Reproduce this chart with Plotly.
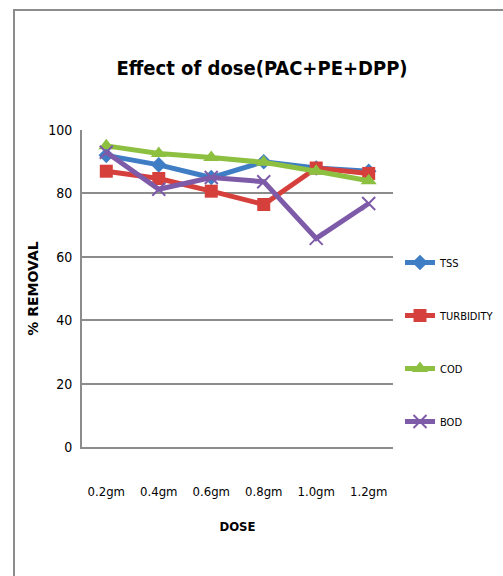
import plotly.graph_objects as go

doses = ["0.2gm", "0.4gm", "0.6gm", "0.8gm", "1.0gm", "1.2gm"]
tss = [92, 89, 85, 90, 88, 87]
turbidity = [87, 84.7, 80.7, 76.5, 88, 86.3]
cod = [95, 92.6, 91.3, 89.8, 87, 84]
bod = [93, 81.3, 85, 83.7, 65.8, 76.8]
y_ticks = [0, 20, 40, 60, 80, 100]

FONT = "DejaVu Sans Condensed, sans-serif"
W, H = 503, 576
L, R, T, B = 82, 110, 130, 129

fig = go.Figure()
series = [
    ("TSS", tss, "#3F7DC4", dict(symbol="diamond", size=12)),
    ("TURBIDITY", turbidity, "#D6403C", dict(symbol="square", size=13)),
    ("COD", cod, "#8DC040", dict(symbol="triangle-up", size=14)),
    ("BOD", bod, "#7E5BA8", dict(symbol="x-thin", size=13)),
]
for i, (name, vals, col, mk) in enumerate(series):
    m = dict(color=col, **mk)
    if mk["symbol"] == "x-thin":
        m["line"] = dict(color=col, width=2)
    fig.add_trace(go.Scatter(
        x=doses, y=vals, name=name, mode="lines+markers",
        line=dict(color=col, width=5), marker=m, legendgroup=f"g{i}",
    ))

pw = W - L - R
ph = H - T - B
fig.add_shape(type="rect", xref="paper", yref="paper",
              x0=(14 - L) / pw, x1=(520 - L) / pw,
              y0=(H - B - 600) / ph, y1=(H - B - 10) / ph,
              line=dict(color="#8C8C8C", width=2), fillcolor="rgba(0,0,0,0)", layer="below")

fig.update_layout(
    width=W, height=H,
    margin=dict(l=L, r=R, t=T, b=B, autoexpand=False),
    paper_bgcolor="white", plot_bgcolor="white",
    title=dict(text="<b>Effect of dose(PAC+PE+DPP)</b>", x=262 / W, xanchor="center",
               y=1 - 68 / H, yanchor="middle",
               font=dict(family=FONT, size=20, color="black")),
    font=dict(family=FONT, color="black"),
    xaxis=dict(type="category", showgrid=False, showline=True, linecolor="#8C8C8C", linewidth=2,
               tickfont=dict(family=FONT, size=13, color="black"),
               ticks="outside", ticklen=0, ticklabelstandoff=31,
               title=dict(text="<b>DOSE</b>", font=dict(family=FONT, size=13, color="black"), standoff=24)),
    yaxis=dict(range=[0, 100], tickvals=y_ticks, showgrid=True, gridcolor="#8C8C8C", gridwidth=2,
               showline=True, linecolor="#8C8C8C", linewidth=2, zeroline=False,
               tickfont=dict(family=FONT, size=14, color="black"),
               ticks="outside", ticklen=0, ticklabelstandoff=5,
               title=dict(text="<b>% REMOVAL</b>", font=dict(family="DejaVu Sans", size=14, color="black"), standoff=6)),
    legend=dict(xref="container", yref="container", x=400 / W, xanchor="left",
                y=1 - 248 / H, yanchor="top",
                font=dict(family=FONT, size=11, color="black"), tracegroupgap=34,
                bgcolor="rgba(0,0,0,0)", itemwidth=30),
    showlegend=True,
)

fig.write_html("out.html")
